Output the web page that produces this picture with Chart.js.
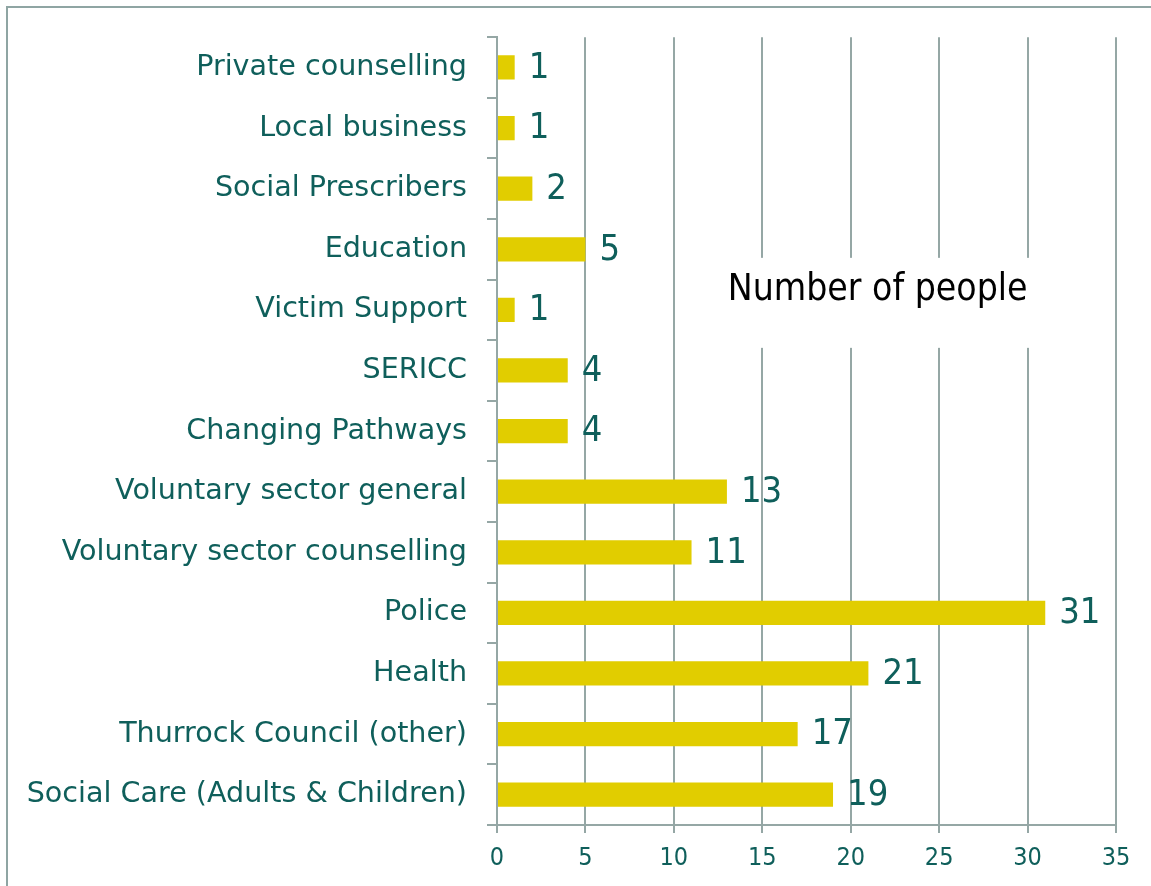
<!DOCTYPE html>
<html>
<head>
<meta charset="utf-8">
<title>Referral sources</title>
<script src="https://cdn.jsdelivr.net/npm/chart.js@4.4.1/dist/chart.umd.min.js"></script>
<style>
  html, body { margin: 0; padding: 0; background: #fff; overflow: hidden; }
  #frame {
    position: absolute; left: 6px; top: 6px;
    width: 1200px; height: 940px;
    border: 2px solid #8fa5a3;
  }
  #wrap { position: absolute; left: 0; top: 0; width: 1151px; height: 886px; }
</style>
</head>
<body>
<div id="frame"></div>
<div id="wrap"><canvas id="chart"></canvas></div>
<script>
const categories = [
  "Private counselling",
  "Local business",
  "Social Prescribers",
  "Education",
  "Victim Support",
  "SERICC",
  "Changing Pathways",
  "Voluntary sector general",
  "Voluntary sector counselling",
  "Police",
  "Health",
  "Thurrock Council (other)",
  "Social Care (Adults & Children)",
]
const peopleCounts = [1, 1, 2, 5, 1, 4, 4, 13, 11, 31, 21, 17, 19]
const seriesName = "Number of people"
const xMin = 0
const xMax = 35
const xStep = 5

const textColor = "#0f5f5b"
const lineColor = "#95a7a5"
const barColor = "#e1cd00"
const labelFont = "'DejaVu Sans', sans-serif"
const numberFont = "'DejaVu Sans Condensed', 'DejaVu Sans', sans-serif"

// value written just past the end of each bar
const valueLabels = {
  id: "valueLabels",
  afterDatasetsDraw(chart) {
    const ctx = chart.ctx
    const meta = chart.getDatasetMeta(0)
    ctx.save()
    ctx.fillStyle = textColor
    ctx.font = `36px ${numberFont}`
    ctx.textAlign = "left"
    ctx.textBaseline = "middle"
    meta.data.forEach((bar, i) => {
      ctx.fillText(String(chart.data.datasets[0].data[i]), bar.x + 14, bar.y + 1)
    })
    ctx.restore()
  },
}

// series name on a white patch inside the plot area
const seriesKey = {
  id: "seriesKey",
  afterDatasetsDraw(chart, args, opts) {
    const { ctx, chartArea } = chart
    const cx = chartArea.left + chartArea.width * opts.x
    const cy = chartArea.top + chartArea.height * opts.y
    ctx.save()
    ctx.font = `37px ${numberFont}`
    const w = ctx.measureText(chart.data.datasets[0].label).width
    ctx.fillStyle = "#fff"
    ctx.fillRect(cx - w / 2 - 18, cy - 33, w + 36, 90)
    ctx.fillStyle = "#000"
    ctx.textAlign = "center"
    ctx.textBaseline = "middle"
    ctx.fillText(chart.data.datasets[0].label, cx, cy)
    ctx.restore()
  },
}

new Chart(document.getElementById("chart"), {
  type: "bar",
  data: {
    labels: categories,
    datasets: [
      {
        label: seriesName,
        data: peopleCounts,
        backgroundColor: barColor,
        categoryPercentage: 1,
        barPercentage: 0.4,
      },
    ],
  },
  options: {
    indexAxis: "y",
    responsive: true,
    maintainAspectRatio: false,
    animation: false,
    layout: {
      padding: { top: 36, right: 35, left: 0, bottom: 0 },
    },
    plugins: {
      legend: { display: false },
      tooltip: { enabled: false },
      seriesKey: { x: 0.615, y: 0.322 },
    },
    scales: {
      x: {
        min: xMin,
        max: xMax,
        grid: {
          color: lineColor,
          lineWidth: 2,
          tickLength: 8,
        },
        border: { color: lineColor, width: 2 },
        ticks: {
          stepSize: xStep,
          color: textColor,
          font: { family: numberFont, size: 25 },
          padding: 10,
          maxRotation: 0,
        },
        afterFit(scale) {
          scale.height = 61
        },
      },
      y: {
        grid: {
          drawOnChartArea: false,
          color: lineColor,
          lineWidth: 2,
          tickLength: 10,
          offset: true,
        },
        border: { color: lineColor, width: 2 },
        ticks: {
          color: textColor,
          font: { family: labelFont, size: 28.6 },
          padding: 20,
          autoSkip: false,
        },
        afterFit(scale) {
          scale.width = 497
        },
      },
    },
  },
  plugins: [valueLabels, seriesKey],
})
</script>
</body>
</html>
